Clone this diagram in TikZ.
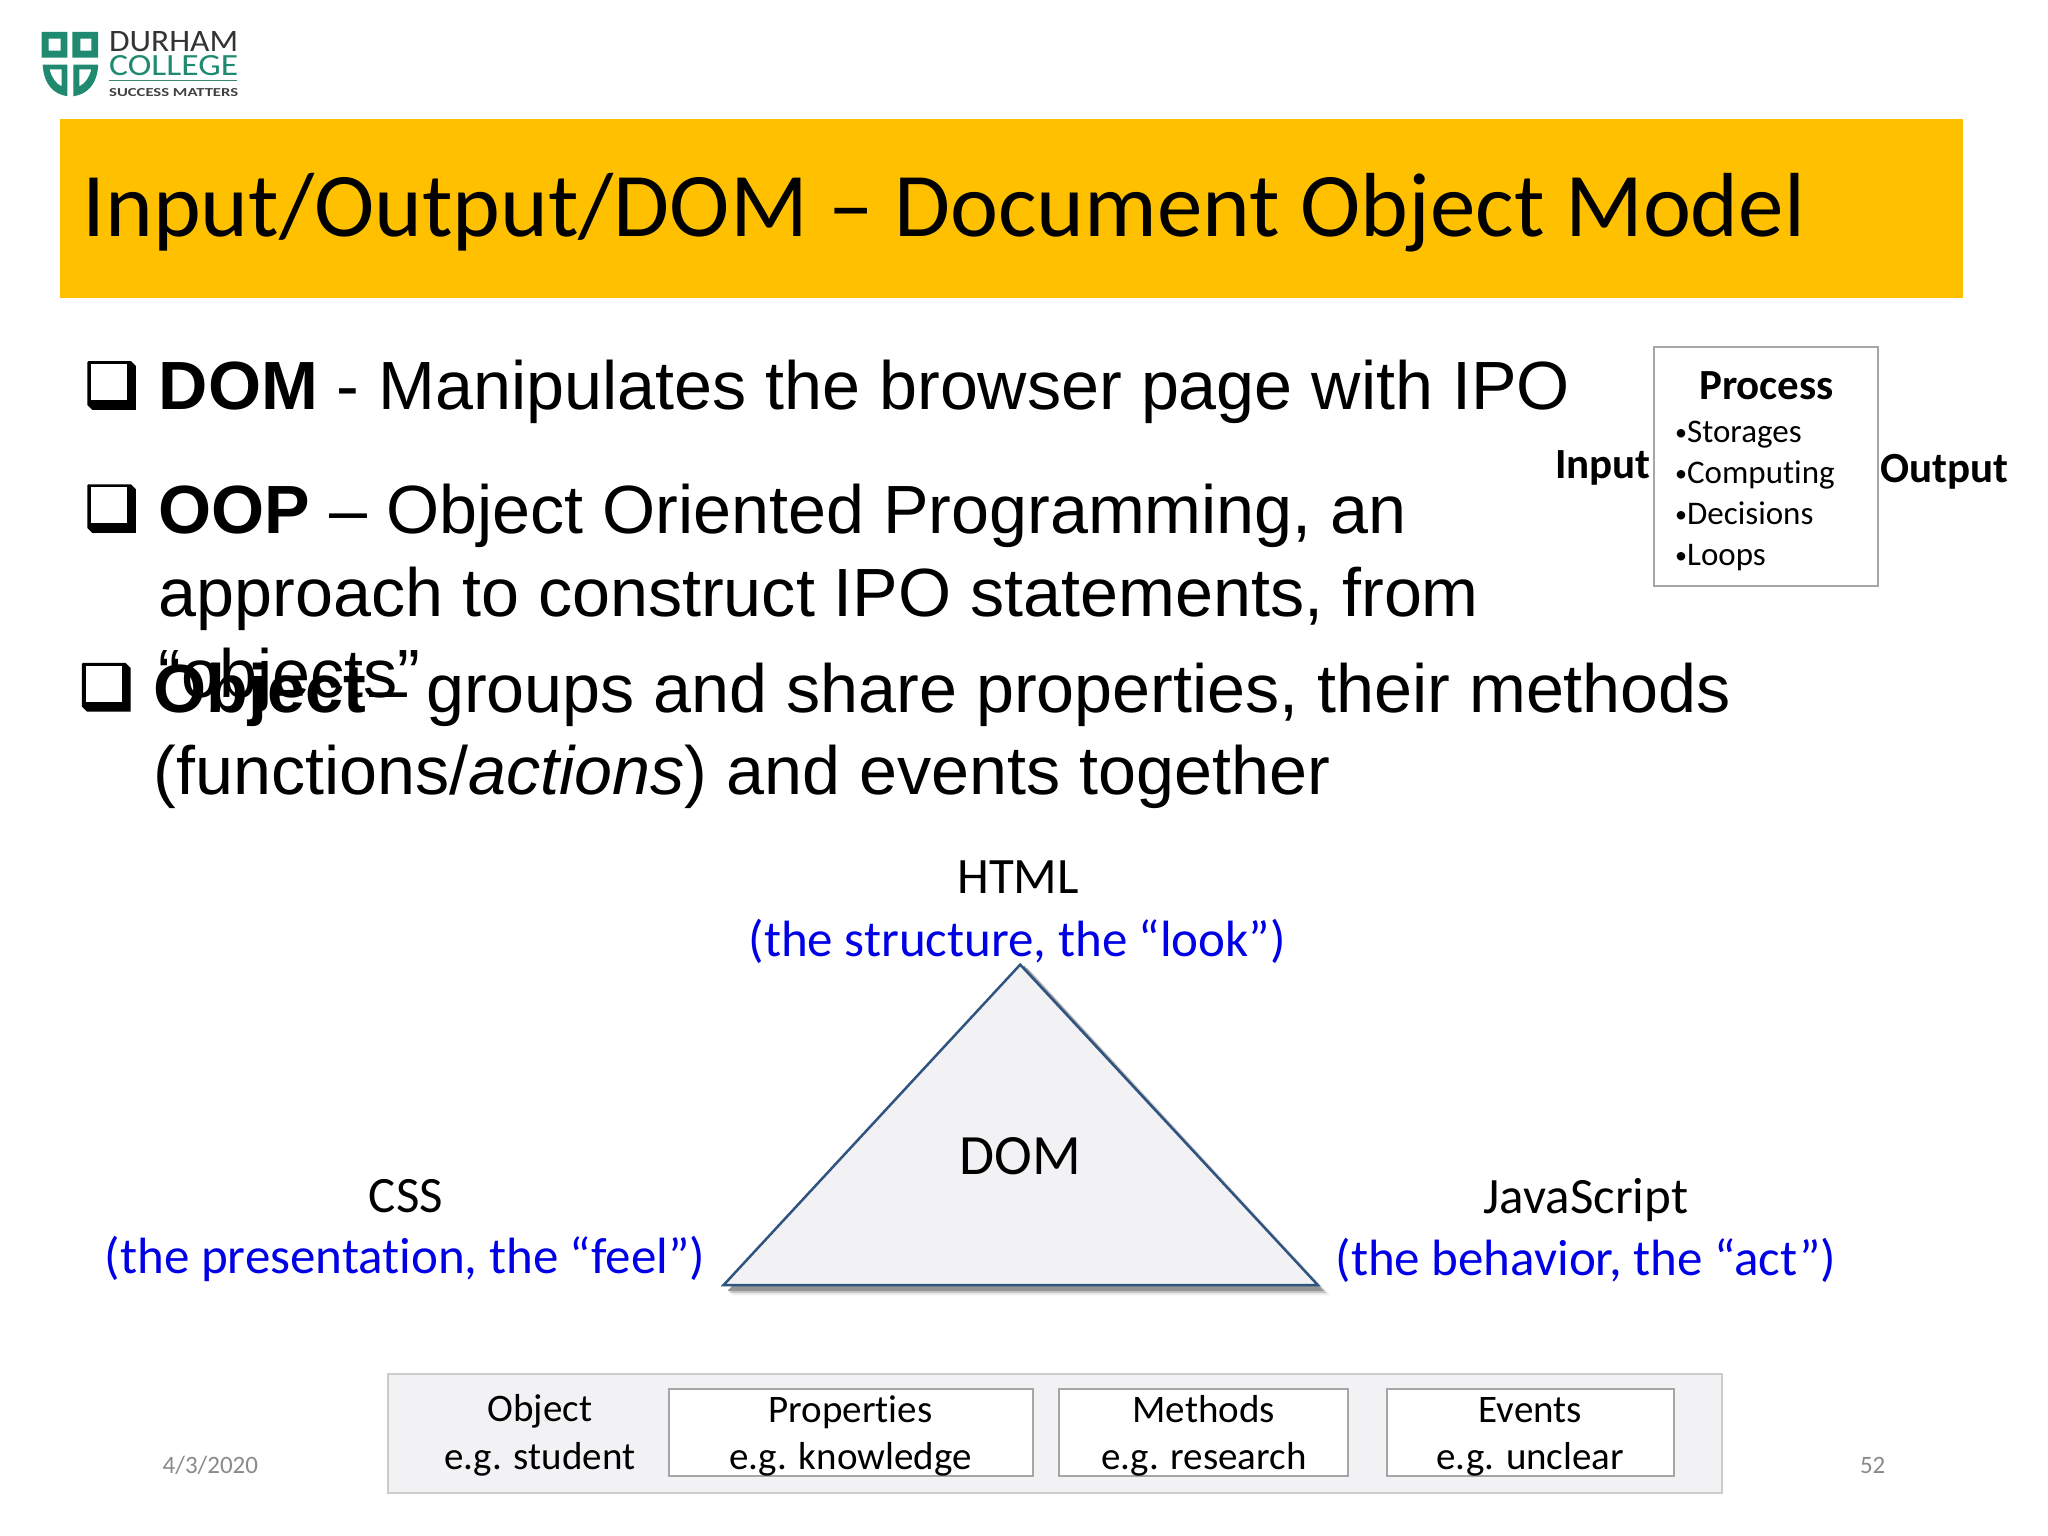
\documentclass[tikz,border=0pt]{standalone}
\usepackage{fontspec}
\usepackage{graphicx}
\setmainfont{Liberation Sans}
\newfontfamily\crl[Ligatures={TeX,NoCommon}]{Carlito}
\definecolor{bannercol}{HTML}{FFC000}
\definecolor{linkblue}{HTML}{0000E6}
\definecolor{greenlogo}{HTML}{1F8A70}
\definecolor{panel}{HTML}{F2F2F5}
\definecolor{framegray}{HTML}{A6A6A6}
\definecolor{triline}{HTML}{2F5480}
\newcommand{\fsz}[1]{\fontsize{#1}{#1}\selectfont}
\newcommand{\smdot}{\raisebox{2pt}{\fsz{24}•}}
\tikzset{
  x=0.9924pt,y=-0.9924pt,
  txt/.style={inner sep=0,outer sep=0,anchor=base west},
  ctxt/.style={inner sep=0,outer sep=0,anchor=base},
  bodytxt/.style={txt,font=\fsz{68.25}},
  sidetxt/.style={ctxt,font=\crl\fsz{51}},
  sideblue/.style={ctxt,font=\crl\fsz{51},text=linkblue},
  smalltxt/.style={ctxt,font=\crl\fsz{39}},
  proc/.style={txt,font=\crl\fsz{33}},
  headb/.style={font=\crl\bfseries\fsz{43}},
  foot/.style={ctxt,font=\crl\fsz{25},text=black!46},
  cell/.style={draw=framegray,line width=2pt,fill=white},
}
\newcommand{\sqbullet}[2]{%
  \begin{scope}[shift={(#1,#2)}]
    \fill[black] (0,1) -- (1,0) -- (44,0) -- (49,5) -- (49,49) -- (5,49) -- (0,44) -- cycle;
    \fill[white] (4,3) -- (40,3) -- (40,39) -- (4,39) -- cycle;
  \end{scope}}
\begin{document}
\begin{tikzpicture}
\useasboundingbox (0,0) rectangle (2063.68,1547.76);
\fill[white] (0,0) rectangle (2063.68,1547.76);
% logo
\begin{scope}
  \fill[greenlogo,even odd rule] (42,32) rectangle (68,58) (49,39) rectangle (61,51);
  \fill[greenlogo,even odd rule] (73,32) rectangle (99,58) (81,39) rectangle (92,51);
  \fill[greenlogo,even odd rule] (43,65) -- (68,65) -- (68,97) .. controls (54,95) and (44,85) .. (43,65) -- cycle
     (50,70) -- (62,70) -- (62,87) .. controls (56,84) and (52,78) .. (50,70) -- cycle;
  \fill[greenlogo,even odd rule] (74,65) -- (99,65) .. controls (98,85) and (88,95) .. (74,97) -- cycle
     (80,70) -- (92,70) .. controls (90,78) and (86,84) .. (80,87) -- cycle;
  \draw[greenlogo!70!gray,line width=1pt] (110,81) -- (239,81);
\end{scope}
\node[txt,text=black!80] (logoa) at (110,52) {\resizebox{129pt}{20pt}{\crl DURHAM}};
\node[txt,text=greenlogo] (logob) at (110,76) {\resizebox{129pt}{20pt}{\crl COLLEGE}};
\node[txt,text=black!75] (logoc) at (110,97) {\resizebox{129pt}{8pt}{\crl\bfseries SUCCESS MATTERS}};
% banner
\fill[bannercol] (60,120) rectangle (1978,300);
\node[txt,font=\crl\fsz{91}] (title) at (83,238) {Input/Output/DOM – Document Object Model};
% bullets
\sqbullet{88}{364}
\sqbullet{88}{488}
\sqbullet{82.5}{668}
\node[bodytxt] (b1) at (160,413) {\textbf{DOM} - Manipulates the browser page with IPO};
\node[bodytxt] (b2a) at (160,538) {\textbf{OOP} – Object Oriented Programming, an};
\node[bodytxt] (b2b) at (160,621) {approach to construct IPO statements, from};
\node[bodytxt] (b2c) at (160,703) {“objects”};
\node[bodytxt] (b3a) at (155,718) {\textbf{Object}\kern3pt– groups and share properties, their methods};
\node[bodytxt] (b3b) at (155,801) {(functions/\textit{actions}) and events together};
% process box
\draw[framegray,line width=2pt,fill=white] (1667,350) rectangle (1892,590);
\node[ctxt,headb] (pt) at (1780,403) {Process};
\node[proc] (p1) at (1688,446) {\smdot Storages};
\node[proc] (p2) at (1688,487) {\smdot Computing};
\node[proc] (p3) at (1688,529) {\smdot Decisions};
\node[proc] (p4) at (1688,570) {\smdot Loops};
\node[txt,headb] (inp) at (1567,482) {Input};
\node[txt,headb] (out) at (1895,486) {Output};
% triangle
\fill[black!7] (737,1305) -- (1340,1305) -- (1037,977) -- cycle;
\fill[black!22] (735,1303) -- (1337,1303) -- (1035,975) -- cycle;
\fill[black!42] (733,1301) -- (1334,1301) -- (1032,973) -- cycle;
\draw[triline,line width=2.5pt,fill=panel,line join=miter] (1028,972) -- (1328,1295) -- (729,1295) -- cycle;
\node[ctxt,font=\crl\fsz{57}] (dom) at (1028,1183) {DOM};
\node[sidetxt] (html) at (1026,900.5) {HTML};
\node[sideblue] (htmlb) at (1025,964) {(the structure, the “look”)};
\node[sidetxt] (css) at (409,1222) {CSS};
\node[sideblue] (cssb) at (408,1283) {(the presentation, the “feel”)};
\node[sidetxt] (js) at (1598,1223) {JavaScript};
\node[sideblue] (jsb) at (1598,1285) {(the behavior, the “act”)};
% bottom panel
\draw[black!20,line width=2pt,fill=panel] (391,1385) rectangle (1735,1504);
\draw[cell] (674,1400) rectangle (1041,1487);
\draw[cell] (1067,1400) rectangle (1358,1487);
\draw[cell] (1398,1400) rectangle (1687,1487);
\node[smalltxt] (o1) at (544,1432) {Object};
\node[smalltxt] (o2) at (544,1481) {e.g. student};
\node[smalltxt] (r1) at (857,1433) {Properties};
\node[smalltxt] (r2) at (857,1481) {e.g. knowledge};
\node[smalltxt] (m1) at (1213,1433) {Methods};
\node[smalltxt] (m2) at (1213,1481) {e.g. research};
\node[smalltxt] (e1) at (1542,1433) {Events};
\node[smalltxt] (e2) at (1542,1481) {e.g. unclear};
\node[foot] (date) at (212,1485) {4/3/2020};
\node[foot] (num) at (1887,1485) {52};
\end{tikzpicture}
\end{document}
